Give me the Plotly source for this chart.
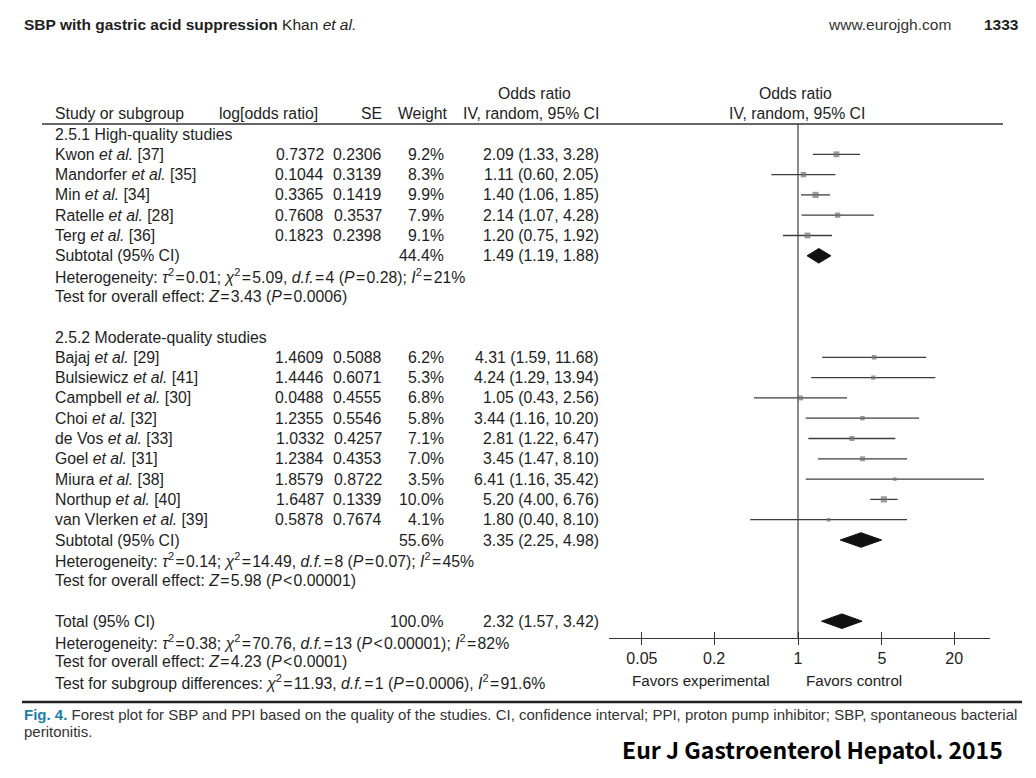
import plotly.graph_objects as go

# The page body has an 8px margin, so the figure is drawn 8px in from the top-left corner.
OFF = 8
W, H = 1020, 762

# ---------------- data ----------------
g1_authors = ["Kwon", "Mandorfer", "Min", "Ratelle", "Terg"]
g1_refs = [37, 35, 34, 28, 36]
g1_logor = ["0.7372", "0.1044", "0.3365", "0.7608", "0.1823"]
g1_se = ["0.2306", "0.3139", "0.1419", "0.3537", "0.2398"]
g1_weight = [9.2, 8.3, 9.9, 7.9, 9.1]
g1_or = [2.09, 1.11, 1.40, 2.14, 1.20]
g1_lo = [1.33, 0.60, 1.06, 1.07, 0.75]
g1_hi = [3.28, 2.05, 1.85, 4.28, 1.92]
g1_sub = (44.4, 1.49, 1.19, 1.88)

g2_authors = ["Bajaj", "Bulsiewicz", "Campbell", "Choi", "de Vos", "Goel", "Miura", "Northup", "van Vlerken"]
g2_refs = [29, 41, 30, 32, 33, 31, 38, 40, 39]
g2_logor = ["1.4609", "1.4446", "0.0488", "1.2355", "1.0332", "1.2384", "1.8579", "1.6487", "0.5878"]
g2_se = ["0.5088", "0.6071", "0.4555", "0.5546", "0.4257", "0.4353", "0.8722", "0.1339", "0.7674"]
g2_weight = [6.2, 5.3, 6.8, 5.8, 7.1, 7.0, 3.5, 10.0, 4.1]
g2_or = [4.31, 4.24, 1.05, 3.44, 2.81, 3.45, 6.41, 5.20, 1.80]
g2_lo = [1.59, 1.29, 0.43, 1.16, 1.22, 1.47, 1.16, 4.00, 0.40]
g2_hi = [11.68, 13.94, 2.56, 10.20, 6.47, 8.10, 35.42, 6.76, 8.10]
g2_sub = (55.6, 3.35, 2.25, 4.98)

total = (100.0, 2.32, 1.57, 3.42)

T = "\u200a"  # hair space around = and <
EQ = f"{T}={T}"
LT = f"{T}&lt;{T}"
g1_het = f"Heterogeneity: <i>τ</i><sup>2</sup>{EQ}0.01; <i>χ</i><sup>2</sup>{EQ}5.09, <i>d.f.</i>{EQ}4 (<i>P</i>{EQ}0.28); <i>I</i><sup>2</sup>{EQ}21%"
g1_test = f"Test for overall effect: <i>Z</i>{EQ}3.43 (<i>P</i>{EQ}0.0006)"
g2_het = f"Heterogeneity: <i>τ</i><sup>2</sup>{EQ}0.14; <i>χ</i><sup>2</sup>{EQ}14.49, <i>d.f.</i>{EQ}8 (<i>P</i>{EQ}0.07); <i>I</i><sup>2</sup>{EQ}45%"
g2_test = f"Test for overall effect: <i>Z</i>{EQ}5.98 (<i>P</i>{LT}0.00001)"
total_het = f"Heterogeneity: <i>τ</i><sup>2</sup>{EQ}0.38; <i>χ</i><sup>2</sup>{EQ}70.76, <i>d.f.</i>{EQ}13 (<i>P</i>{LT}0.00001); <i>I</i><sup>2</sup>{EQ}82%"
total_test = f"Test for overall effect: <i>Z</i>{EQ}4.23 (<i>P</i>{LT}0.0001)"
subgroup_test = f"Test for subgroup differences: <i>χ</i><sup>2</sup>{EQ}11.93, <i>d.f.</i>{EQ}1 (<i>P</i>{EQ}0.0006), <i>I</i><sup>2</sup>{EQ}91.6%"

tick_vals = [0.05, 0.2, 1, 5, 20]
tick_text = ["0.05", "0.2", "1", "5", "20"]

# ---------------- layout helpers (positions in reference-page pixels) ----------------
ROW0, ROWH = 134.0, 20.3          # page y of row 0, row pitch


def row_of(y_page):
    return (y_page - ROW0) / ROWH


y_top = row_of(OFF)
y_bot = row_of(OFF + H)


def px(x_page):
    return (x_page - OFF) / W


def py(y_page):
    return 1 - (y_page - OFF) / H


FONT = "Liberation Sans, Arial, sans-serif"
TXT = "#1e1e1e"
FS = 15.8

annotations = []


def txt(x_page, row, text, anchor="left", size=FS, color=TXT, font=FONT):
    annotations.append(dict(x=px(x_page), y=row, xref="paper", yref="y", text=text,
                            showarrow=False, xanchor=anchor, yanchor="middle",
                            font=dict(size=size, color=color, family=font)))


def ptxt(x_page, y_page, text, anchor="left", size=FS, color=TXT, font=FONT):
    annotations.append(dict(x=px(x_page), y=py(y_page), xref="paper", yref="paper", text=text,
                            showarrow=False, xanchor=anchor, yanchor="middle",
                            font=dict(size=size, color=color, family=font)))


X_NAME, X_LOG, X_SE, X_W, X_CI = 53, 326, 384, 446, 601


def ci_str(o, l, h):
    return f"{o:.2f} ({l:.2f}, {h:.2f})"


# column headers
txt(534, -2, "Odds ratio", "center")
txt(X_NAME, -1, "Study or subgroup")
txt(320, -1, "log[odds ratio]", "right")
txt(384, -1, "SE", "right")
txt(449, -1, "Weight", "right")
txt(601, -1, "IV, random, 95% CI", "right")
txt(795, -2, "Odds ratio", "center")
txt(797, -1, "IV, random, 95% CI", "center")

fig = go.Figure()

ci_x, ci_y = [], []
sq_x, sq_y, sq_s = [], [], []
diamonds = []


def group(start_row, title, authors, refs, logor, se, wt, o, lo, hi, sub, het, test):
    txt(X_NAME, start_row, title)
    for i in range(len(authors)):
        r = start_row + 1 + i
        txt(X_NAME, r, f"{authors[i]} <i>et al.</i> [{refs[i]}]")
        txt(X_LOG, r, logor[i], "right")
        txt(X_SE, r, se[i], "right")
        txt(X_W, r, f"{wt[i]:.1f}%", "right")
        txt(X_CI, r, ci_str(o[i], lo[i], hi[i]), "right")
        ci_x.extend([lo[i], hi[i], None])
        ci_y.extend([r, r, None])
        sq_x.append(o[i]); sq_y.append(r); sq_s.append(2 + 0.42 * wt[i])
    r = start_row + 1 + len(authors)
    txt(X_NAME, r, "Subtotal (95% CI)")
    txt(X_W, r, f"{sub[0]:.1f}%", "right")
    txt(X_CI, r, ci_str(*sub[1:]), "right")
    diamonds.append((r, sub[1], sub[2], sub[3]))
    txt(X_NAME, r + 1, het)
    txt(X_NAME, r + 2, test)
    return r + 2


end1 = group(0, "2.5.1 High-quality studies", g1_authors, g1_refs, g1_logor, g1_se,
             g1_weight, g1_or, g1_lo, g1_hi, g1_sub, g1_het, g1_test)
start2 = end1 + 2
end2 = group(start2, "2.5.2 Moderate-quality studies", g2_authors, g2_refs, g2_logor, g2_se,
             g2_weight, g2_or, g2_lo, g2_hi, g2_sub, g2_het, g2_test)
rt = end2 + 2
txt(X_NAME, rt, "Total (95% CI)")
txt(X_W, rt, f"{total[0]:.1f}%", "right")
txt(X_CI, rt, ci_str(*total[1:]), "right")
diamonds.append((rt, total[1], total[2], total[3]))
txt(X_NAME, rt + 1, total_het)
txt(X_NAME, rt + 2, total_test)
txt(X_NAME, rt + 3, subgroup_test)

AXIS_Y = 638
axis_row = row_of(AXIS_Y)
line_top_row = row_of(124)

# vertical line of no effect
fig.add_trace(go.Scatter(x=[1, 1], y=[line_top_row, axis_row], mode="lines",
                         line=dict(color="#8a8a8a", width=2), hoverinfo="skip", showlegend=False))
# confidence intervals
fig.add_trace(go.Scatter(x=ci_x, y=ci_y, mode="lines", line=dict(color="#3c3c3c", width=1.3),
                         hoverinfo="skip", showlegend=False))
# study squares
fig.add_trace(go.Scatter(x=sq_x, y=sq_y, mode="markers",
                         marker=dict(symbol="square", size=sq_s, color="#707070", line=dict(width=0)),
                         showlegend=False))
# pooled diamonds
DH = 0.36
for r, e, l, h in diamonds:
    fig.add_trace(go.Scatter(x=[l, e, h, e, l], y=[r, r - DH, r, r + DH, r], mode="lines",
                             fill="toself", fillcolor="#111111", line=dict(color="#111111", width=1),
                             hoverinfo="skip", showlegend=False))
# invisible trace for the overlay axis that draws the upper half of the ticks
fig.add_trace(go.Scatter(x=[1], y=[axis_row], xaxis="x2", mode="markers",
                         marker=dict(opacity=0), hoverinfo="skip", showlegend=False))

txt(701, row_of(680), "Favors experimental", "center", size=15.2)
txt(854, row_of(680), "Favors control", "center", size=15.2)

# page header
ptxt(22, 24, "<b>SBP with gastric acid suppression</b> Khan <i>et al.</i>", size=15.5)
ptxt(953, 24, "www.eurojgh.com", "right", size=15.5, color="#333333")
ptxt(1021, 24, "<b>1333</b>", "right", size=15.5)

# caption
ptxt(22, 714, "<span style='color:#1c7ea6'><b>Fig. 4.</b></span> Forest plot for SBP and PPI based on the quality of the studies. CI, confidence interval; PPI, proton pump inhibitor; SBP, spontaneous bacterial",
     size=15, color="#333333")
ptxt(22, 731, "peritonitis.", size=15, color="#333333")
ptxt(1005, 749, "<b>Eur J Gastroenterol Hepatol. 2015</b>", "right", size=23, color="#000000",
     font="Noto Sans CJK KR, Noto Sans, sans-serif")

shapes = [
    dict(type="line", xref="paper", yref="paper", x0=px(42), x1=px(1003),
         y0=py(124), y1=py(124), line=dict(color="#333333", width=1.6)),
    dict(type="line", xref="paper", yref="paper", x0=px(22), x1=px(1022),
         y0=py(702), y1=py(702), line=dict(color="#222222", width=2.5)),
]

XR = [-1.575, 1.6]
axis_pos = py(AXIS_Y)
dom = [px(609), px(990)]
fig.update_layout(
    width=W, height=H, margin=dict(l=0, r=0, t=0, b=0),
    paper_bgcolor="white", plot_bgcolor="white",
    xaxis=dict(type="log", range=XR, domain=dom, anchor="free", position=axis_pos,
               showgrid=False, zeroline=False, showline=True, linecolor="#333333", linewidth=1.2,
               tickvals=tick_vals, ticktext=tick_text, ticks="outside", ticklen=6, tickwidth=1.2,
               tickcolor="#333333", tickfont=dict(size=16, color=TXT, family=FONT)),
    xaxis2=dict(type="log", range=XR, domain=dom, anchor="free", position=axis_pos,
                overlaying="x", side="bottom", showgrid=False, zeroline=False, showline=False,
                tickvals=tick_vals, ticks="inside", ticklen=6, tickwidth=1.2, tickcolor="#333333",
                showticklabels=False),
    yaxis=dict(range=[y_bot, y_top], domain=[0, 1], visible=False, showgrid=False, zeroline=False),
    annotations=annotations, shapes=shapes, showlegend=False,
)

fig.write_html("out.html")
